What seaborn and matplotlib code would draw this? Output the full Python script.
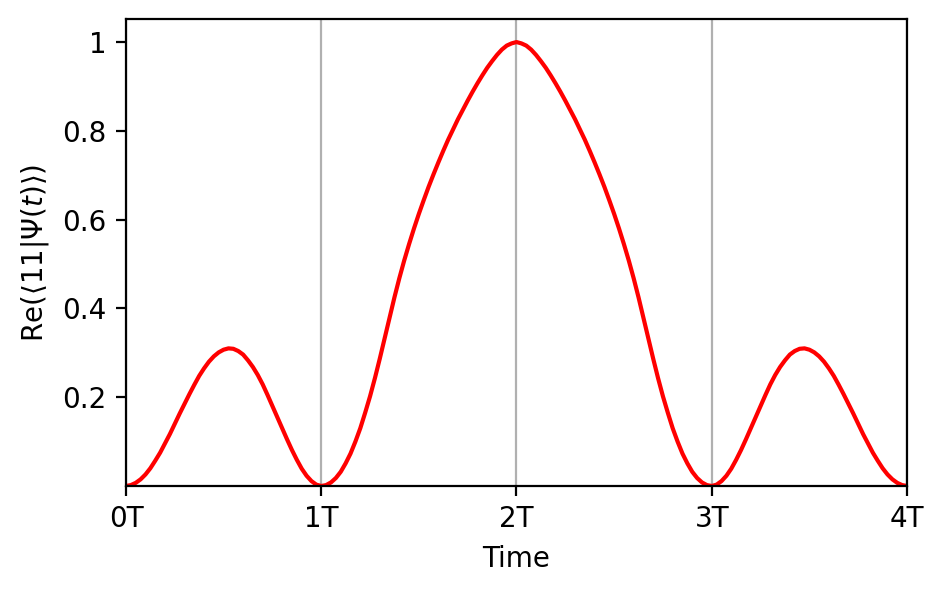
import numpy as np
import pandas as pd
import matplotlib
matplotlib.use("Agg")
import matplotlib.pyplot as plt
import seaborn as sns

# time axis in units of T (grid step 0.025 T)
time_T = np.linspace(0, 4, 161)

# Re(<11|psi(t)>), 0T -> 4T
re_amp = [
    # 0T .. 1T
    0.000, 0.002, 0.007, 0.015, 0.026, 0.040, 0.057, 0.075, 0.096, 0.117,
    0.140, 0.163, 0.185, 0.207, 0.228, 0.248, 0.265, 0.280, 0.292, 0.301,
    0.307, 0.310, 0.309, 0.304, 0.296, 0.283, 0.268, 0.250, 0.229, 0.205,
    0.180, 0.155, 0.130, 0.105, 0.081, 0.059, 0.039, 0.023, 0.011, 0.003,
    0.000,
    # 1T .. 2T
    0.002, 0.008, 0.018, 0.032, 0.051, 0.073, 0.100, 0.130, 0.165, 0.202,
    0.243, 0.287, 0.333, 0.379, 0.425, 0.468, 0.508, 0.545, 0.580, 0.613,
    0.644, 0.674, 0.702, 0.729, 0.755, 0.780, 0.803, 0.826, 0.847, 0.868,
    0.888, 0.907, 0.925, 0.942, 0.957, 0.971, 0.983, 0.992, 0.997, 1.000,
    # 2T .. 3T
    0.997, 0.992, 0.983, 0.971, 0.957, 0.942, 0.925, 0.907, 0.888, 0.868,
    0.847, 0.826, 0.803, 0.780, 0.755, 0.729, 0.702, 0.674, 0.644, 0.613,
    0.580, 0.545, 0.508, 0.468, 0.425, 0.379, 0.333, 0.287, 0.243, 0.202,
    0.165, 0.130, 0.100, 0.073, 0.051, 0.032, 0.018, 0.008, 0.002, 0.000,
    # 3T .. 4T
    0.003, 0.011, 0.023, 0.039, 0.059, 0.081, 0.105, 0.130, 0.155, 0.180,
    0.205, 0.229, 0.250, 0.268, 0.283, 0.296, 0.304, 0.309, 0.310, 0.307,
    0.301, 0.292, 0.280, 0.265, 0.248, 0.228, 0.207, 0.185, 0.163, 0.140,
    0.117, 0.096, 0.075, 0.057, 0.040, 0.026, 0.015, 0.007, 0.002, 0.000,
]
x_ticks = [0, 1, 2, 3, 4]
x_labels = ["0T", "1T", "2T", "3T", "4T"]
y_ticks = [0.2, 0.4, 0.6, 0.8, 1.0]
y_labels = ["0.2", "0.4", "0.6", "0.8", "1"]

df = pd.DataFrame({"Time": time_T, "amp": re_amp})

fig, ax = plt.subplots(figsize=(4.725, 2.955), dpi=200)
fig.subplots_adjust(left=0.1333, right=0.9598, top=0.9679, bottom=0.1777)

sns.lineplot(data=df, x="Time", y="amp", color="red", linewidth=1.5, ax=ax)

ax.set_xlim(0, 4)
ax.set_ylim(0, 1.052)
ax.set_xticks(x_ticks)
ax.set_xticklabels(x_labels)
ax.set_yticks(y_ticks)
ax.set_yticklabels(y_labels)
ax.grid(axis="x")
ax.set_axisbelow(True)
ax.set_xlabel("Time")
ax.set_ylabel(r"Re($\langle 11|\Psi(t)\rangle$)")

fig.savefig("out.png", dpi=200)
